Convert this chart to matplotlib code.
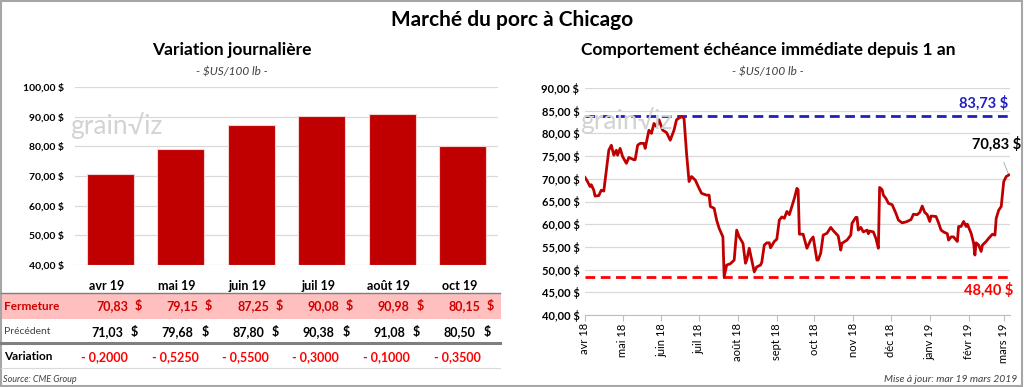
import matplotlib.pyplot as plt
import matplotlib.dates as mdates
import matplotlib.transforms as mtransforms
from matplotlib.patches import Rectangle
from matplotlib.ticker import FuncFormatter
import pandas as pd

plt.rcParams['font.family'] = ['Lato', 'DejaVu Sans']

# donnees - variation journaliere
mois = ['avr 19', 'mai 19', 'juin 19', 'juil 19', 'août 19', 'oct 19']
fermeture = [70.83, 79.15, 87.25, 90.08, 90.98, 80.15]
precedent = [71.03, 79.68, 87.80, 90.38, 91.08, 80.50]
variation = [-0.2000, -0.5250, -0.5500, -0.3000, -0.1000, -0.3500]

# donnees - echeance immediate sur 1 an
dates = ['2018-04-01', '2018-04-03', '2018-04-05', '2018-04-06', '2018-04-08', '2018-04-09',
         '2018-04-12', '2018-04-14', '2018-04-16', '2018-04-20', '2018-04-22', '2018-04-24',
         '2018-04-26', '2018-04-27', '2018-04-29', '2018-05-01', '2018-05-04', '2018-05-06',
         '2018-05-10', '2018-05-11', '2018-05-13', '2018-05-15', '2018-05-18', '2018-05-19',
         '2018-05-22', '2018-05-24', '2018-05-26', '2018-05-28', '2018-05-30', '2018-06-02',
         '2018-06-05', '2018-06-08', '2018-06-11', '2018-06-13', '2018-06-17', '2018-06-19',
         '2018-06-21', '2018-06-23', '2018-06-25', '2018-06-28', '2018-07-01', '2018-07-03',
         '2018-07-07', '2018-07-09', '2018-07-10', '2018-07-13', '2018-07-15', '2018-07-17',
         '2018-07-20', '2018-07-21', '2018-07-23', '2018-07-26', '2018-07-29', '2018-07-31',
         '2018-08-02', '2018-08-05', '2018-08-07', '2018-08-08', '2018-08-10', '2018-08-12',
         '2018-08-14', '2018-08-16', '2018-08-19', '2018-08-20', '2018-08-22', '2018-08-24',
         '2018-08-26', '2018-08-27', '2018-08-30', '2018-09-01', '2018-09-03', '2018-09-05',
         '2018-09-07', '2018-09-09', '2018-09-11', '2018-09-13', '2018-09-15', '2018-09-17',
         '2018-09-18', '2018-09-19', '2018-09-22', '2018-09-25', '2018-09-28', '2018-09-30',
         '2018-10-03', '2018-10-04', '2018-10-06', '2018-10-08', '2018-10-11', '2018-10-14',
         '2018-10-16', '2018-10-20', '2018-10-22', '2018-10-23', '2018-10-27', '2018-10-30',
         '2018-10-31', '2018-11-03', '2018-11-04', '2018-11-05', '2018-11-07', '2018-11-09',
         '2018-11-12', '2018-11-13', '2018-11-14', '2018-11-17', '2018-11-19', '2018-11-21',
         '2018-11-22', '2018-11-24', '2018-11-25', '2018-11-27', '2018-11-29', '2018-12-02',
         '2018-12-05', '2018-12-07', '2018-12-10', '2018-12-13', '2018-12-17', '2018-12-19',
         '2018-12-22', '2018-12-24', '2018-12-26', '2018-12-28', '2018-12-30', '2019-01-01',
         '2019-01-02', '2019-01-06', '2019-01-08', '2019-01-10', '2019-01-12', '2019-01-15',
         '2019-01-16', '2019-01-18', '2019-01-20', '2019-01-22', '2019-01-23', '2019-01-24',
         '2019-01-26', '2019-01-28', '2019-01-30', '2019-01-31', '2019-02-03', '2019-02-05',
         '2019-02-06', '2019-02-07', '2019-02-09', '2019-02-11', '2019-02-12', '2019-02-15',
         '2019-02-17', '2019-02-20', '2019-02-22', '2019-02-23', '2019-02-25', '2019-02-27',
         '2019-03-01', '2019-03-03', '2019-03-05']
prix = [70.3, 69.4, 68.3, 68.7, 67.5, 66.2,
        66.3, 67.5, 67.3, 76.3, 77.4, 75.2,
        76.3, 75.2, 76.7, 74.9, 73.4, 74.7,
        74.2, 74.2, 77.4, 77.8, 77.8, 76.7,
        80.7, 80.0, 82.2, 81.5, 83.0, 80.7,
        80.2, 78.5, 80.7, 83.0, 83.73, 83.3,
        75.6, 69.4, 70.5, 69.7, 67.9, 66.8,
        66.4, 66.4, 63.9, 63.5, 60.9, 59.1,
        57.2, 48.4, 51.0, 51.3, 52.1, 58.7,
        57.2, 55.8, 51.4, 52.1, 54.7, 52.1,
        49.5, 50.6, 51.0, 51.6, 55.4, 55.9,
        55.9, 54.8, 56.2, 56.7, 60.9, 61.6,
        61.3, 62.8, 62.1, 63.9, 65.7, 67.9,
        67.6, 57.8, 57.8, 54.7, 56.5, 57.2,
        52.1, 52.1, 53.6, 57.6, 58.0, 59.3,
        58.6, 57.4, 54.3, 55.8, 56.5, 57.6,
        60.2, 61.5, 61.5, 58.7, 59.3, 58.3,
        58.7, 57.9, 58.5, 58.3, 56.9, 54.7,
        68.1, 67.6, 66.4, 65.7, 64.6, 64.3,
        62.4, 60.9, 60.3, 60.5, 61.0, 62.2,
        62.1, 62.6, 64.0, 62.6, 62.1, 60.6,
        61.8, 61.7, 60.3, 58.7, 58.3, 57.9,
        56.5, 57.2, 57.2, 56.5, 56.2, 59.5,
        59.5, 60.6, 59.5, 60.0, 58.0, 55.8,
        53.2, 55.9, 55.4, 54.0, 55.4, 56.2,
        56.9, 57.8, 57.6, 61.3, 63.1, 63.9,
        69.4, 70.5, 70.83]
haut_1an = 83.73
bas_1an = 48.40
dernier = 70.83

mois_fr = ['janv', 'févr', 'mars', 'avr', 'mai', 'juin', 'juil', 'août', 'sept', 'oct', 'nov', 'déc']

ROUGE = '#C00000'
GRILLE = '#D9D9D9'


def fr(v, dec=2):
    return f'{v:.{dec}f}'.replace('.', ',')


W, H = 1024, 387
fig = plt.figure(figsize=(W / 100, H / 100), dpi=100)


def fy(py):
    return 1 - py / H


# cadre
fig.patches.append(Rectangle((0.001, 0.002), 0.997, 0.995, transform=fig.transFigure,
                             fill=False, edgecolor='#A6A6A6', lw=1.5))

fig.text(512 / W, fy(20), 'Marché du porc à Chicago', ha='center', va='center',
         fontsize=15, fontweight='bold')

# ---------- graphique de gauche ----------
ax = fig.add_axes([75 / W, fy(265), 423 / W, (265 - 87) / H])
x = list(range(len(mois)))
ax.bar(x, [f - 40 for f in fermeture], bottom=40, width=0.66, color=ROUGE,
       edgecolor='#F4D0D0', linewidth=0.8, zorder=3)
ax.set_xlim(-0.5, 5.5)
ax.set_ylim(40, 100)
ax.set_yticks(range(40, 101, 10))
ax.yaxis.set_major_formatter(FuncFormatter(lambda v, p: fr(v) + ' $'))
ax.grid(axis='y', color=GRILLE, lw=0.9, zorder=0)
ax.set_xticks([])
for s in ax.spines.values():
    s.set_visible(False)
ax.tick_params(axis='y', length=0, labelsize=7.5, pad=8)
for lab in ax.get_yticklabels():
    lab.set_fontweight('bold')
fig.text(232 / W, fy(50), 'Variation journalière', ha='center', va='center',
         fontsize=12.5, fontweight='bold')
fig.text(232 / W, fy(72), '- $US/100 lb -', ha='center', va='center',
         fontsize=8.5, style='italic', color='#404040')
fig.text(70 / W, fy(134), 'grain\u221Aiz', ha='left', va='baseline', fontsize=19,
         color='#D3D3D3', zorder=5)

# tableau sous le graphique
tr = mtransforms.blended_transform_factory(ax.transData, fig.transFigure)
trf = fig.transFigure
fond = Rectangle((0.001, fy(319)), 500 / W, (319 - 293) / H, transform=trf,
                 facecolor='#FFBFBF', edgecolor='none', zorder=-1)
fig.patches.append(fond)
fig.add_artist(plt.Line2D([0.001, 500 / W], [fy(293), fy(293)], transform=trf,
                          color='#7F7F7F', lw=1))
fig.add_artist(plt.Line2D([0.001, 500 / W], [fy(343), fy(343)], transform=trf,
                          color='#7F7F7F', lw=2.2))
fig.add_artist(plt.Line2D([0.001, 500 / W], [fy(368), fy(368)], transform=trf,
                          color='#D9D9D9', lw=0.8))
fig.text(4 / W, fy(306), 'Fermeture', ha='left', va='center', fontsize=8.5,
         fontweight='bold', color='#D00000')
fig.text(4 / W, fy(332), 'Précédent', ha='left', va='center', fontsize=7.5,
         color='#404040')
fig.text(4 / W, fy(357), 'Variation', ha='left', va='center', fontsize=8.5,
         fontweight='bold', color='black')
for i in x:
    ax.text(i - 0.05, fy(286), mois[i], transform=tr, ha='center', va='center',
            fontsize=9, fontweight='bold')
    ax.text(i + 0.25, fy(306), fr(fermeture[i]), transform=tr, ha='right', va='center',
            fontsize=9, fontweight='bold', color='#D00000')
    ax.text(i + 0.34, fy(306), '$', transform=tr, ha='left', va='center',
            fontsize=9, fontweight='bold', color='#D00000')
    ax.text(i + 0.18, fy(332), fr(precedent[i]), transform=tr, ha='right', va='center',
            fontsize=9, fontweight='bold', color='black')
    ax.text(i + 0.29, fy(332), '$', transform=tr, ha='left', va='center',
            fontsize=9, fontweight='bold', color='black')
    ax.text(i + 0.25, fy(357), '- ' + fr(abs(variation[i]), 4), transform=tr,
            ha='right', va='center', fontsize=9, fontweight='bold', color='#FF0000')
fig.text(3 / W, fy(379), 'Source: CME Group', ha='left', va='center', fontsize=6.5,
         style='italic', color='#404040')

# ---------- graphique de droite ----------
d = pd.to_datetime(dates)
bx = fig.add_axes([585 / W, fy(315), 425 / W, (315 - 88) / H])
bx.plot(d, prix, color=ROUGE, lw=2, zorder=4, solid_joinstyle='round')
bx.axhline(haut_1an, color='#1F1FBF', lw=2, ls=(0, (3.5, 2)), zorder=3)
bx.axhline(bas_1an, color='#FF0000', lw=2, ls=(0, (3.5, 2)), zorder=3)
bx.set_ylim(40, 90)
bx.set_yticks(range(40, 91, 5))
bx.set_xlim(pd.Timestamp('2018-04-01'), pd.Timestamp('2019-03-06'))
bx.xaxis.set_major_locator(mdates.MonthLocator())
bx.xaxis.set_major_formatter(FuncFormatter(
    lambda v, p: f"{mois_fr[mdates.num2date(v).month - 1]} {mdates.num2date(v).year % 100}"))
bx.yaxis.set_major_formatter(FuncFormatter(lambda v, p: fr(v) + ' $'))
bx.grid(axis='y', color=GRILLE, lw=0.9, zorder=0)
for s in ['top', 'right', 'left']:
    bx.spines[s].set_visible(False)
bx.spines['bottom'].set_color('#BFBFBF')
bx.tick_params(axis='y', length=0, labelsize=8, pad=4)
bx.tick_params(axis='x', length=4, color='#BFBFBF', labelsize=8, labelrotation=90, pad=2)
for lab in bx.get_yticklabels():
    lab.set_fontweight('bold')

bt = mtransforms.blended_transform_factory(bx.transAxes, bx.transData)
bx.text(0.995, haut_1an + 1.3, fr(haut_1an) + ' $', transform=bt, ha='right', va='bottom',
        fontsize=10.5, fontweight='bold', color='#1F1FBF')
bx.text(1.008, bas_1an - 1.3, fr(bas_1an) + ' $', transform=bt, ha='right', va='top',
        fontsize=10.5, fontweight='bold', color='#FF0000', clip_on=False)
bx.annotate(fr(dernier) + ' $', xy=(d[-1], dernier), xytext=(-12, 31),
            textcoords='offset pixels', ha='center', va='center', fontsize=10.5,
            fontweight='bold', color='black', annotation_clip=False,
            arrowprops=dict(arrowstyle='-', color='#A6A6A6', lw=0.6, shrinkA=6, shrinkB=0))

fig.text(768 / W, fy(50), 'Comportement échéance immédiate depuis 1 an', ha='center',
         va='center', fontsize=12.5, fontweight='bold')
fig.text(768 / W, fy(72), '- $US/100 lb -', ha='center', va='center',
         fontsize=8.5, style='italic', color='#404040')
fig.text(580 / W, fy(129), 'grain\u221Aiz', ha='left', va='baseline', fontsize=19,
         color='#D3D3D3', zorder=1)
fig.text(1017 / W, fy(379), 'Mise à jour: mar 19 mars 2019', ha='right', va='center',
         fontsize=7.5, style='italic', color='#404040')

fig.savefig('out.png', dpi=100)
